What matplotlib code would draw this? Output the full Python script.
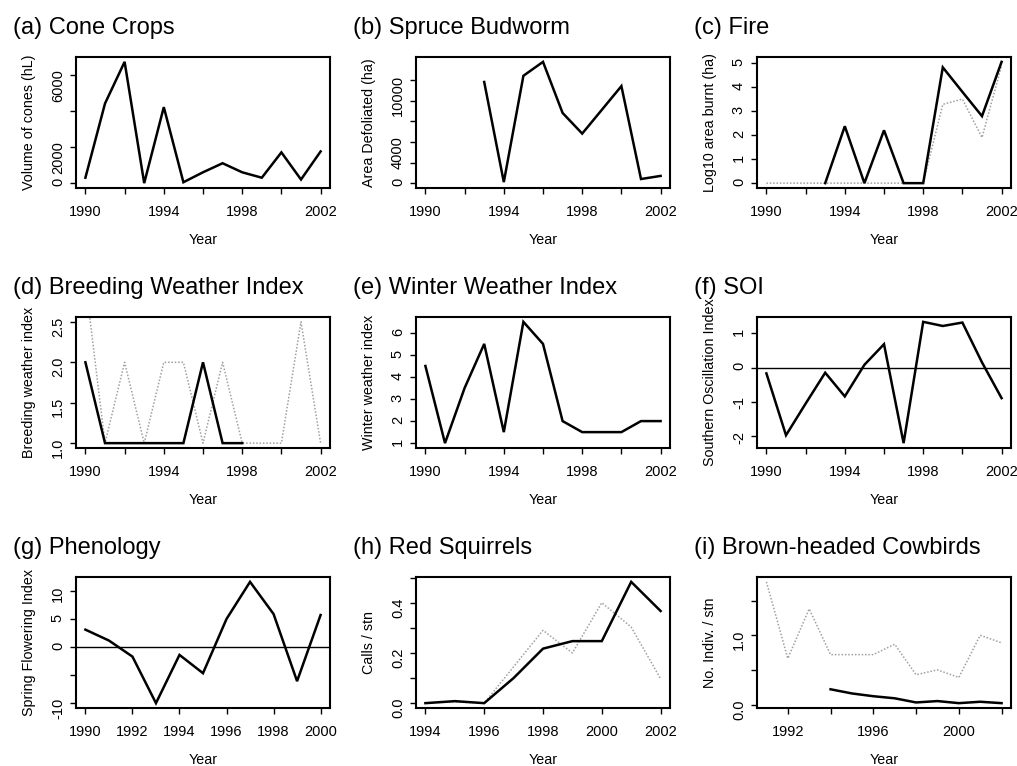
import matplotlib
matplotlib.use('Agg')
import matplotlib.pyplot as plt
import numpy as np

plt.rcParams['font.family'] = ['Liberation Sans', 'DejaVu Sans']

# (a) cone crops
cone_years = [1990, 1991, 1992, 1993, 1994, 1995, 1996, 1997, 1998, 1999, 2000, 2001, 2002]
cone_volume = [300, 4400, 6700, 0, 4200, 50, 600, 1100, 600, 300, 1700, 200, 1750]

# (b) spruce budworm
budworm_years = [1993, 1994, 1995, 1996, 1997, 1998, 1999, 2000, 2001, 2002]
budworm_area = [9800, 100, 10400, 11750, 6800, 4800, 7100, 9400, 400, 700]

# (c) fire, local (solid) and regional (dotted)
fire_years = [1993, 1994, 1995, 1996, 1997, 1998, 1999, 2000, 2001, 2002]
fire_local = [0, 2.37, 0, 2.2, 0, 0, 4.82, 3.8, 2.79, 5.05]
fire_reg_years = [1990, 1991, 1992, 1993, 1994, 1995, 1996, 1997, 1998, 1999, 2000, 2001, 2002]
fire_reg = [0, 0, 0, 0, 0, 0, 0, 0, 0, 3.28, 3.5, 1.9, 4.9]

# (d) breeding weather
breed_years = [1990, 1991, 1992, 1993, 1994, 1995, 1996, 1997, 1998]
breed_local = [2, 1, 1, 1, 1, 1, 2, 1, 1]
breed_reg_years = [1990, 1991, 1992, 1993, 1994, 1995, 1996, 1997, 1998, 1999, 2000, 2001, 2002]
breed_reg = [3.0, 1, 2, 1, 2, 2, 1, 2, 1, 1, 1, 2.5, 1]

# (e) winter weather
winter_years = [1990, 1991, 1992, 1993, 1994, 1995, 1996, 1997, 1998, 1999, 2000, 2001, 2002]
winter_index = [4.5, 1.0, 3.5, 5.5, 1.5, 6.5, 5.5, 2.0, 1.5, 1.5, 1.5, 2.0, 2.0]

# (f) SOI
soi_years = [1990, 1991, 1992, 1993, 1994, 1995, 1996, 1997, 1998, 1999, 2000, 2001, 2002]
soi = [-0.17, -1.97, -1.05, -0.15, -0.84, 0.08, 0.68, -2.2, 1.33, 1.21, 1.31, 0.15, -0.89]

# (g) phenology
phen_years = [1990, 1991, 1992, 1993, 1994, 1995, 1996, 1997, 1998, 1999, 2000]
phen_index = [3.15, 1.2, -1.67, -10.0, -1.37, -4.64, 5.06, 11.7, 5.95, -6.07, 5.77]

# (h) red squirrels
sq_years = [1994, 1995, 1996, 1997, 1998, 1999, 2000, 2001, 2002]
sq_local = [0.0, 0.008, 0.0, 0.1, 0.217, 0.247, 0.247, 0.483, 0.367]
sq_reg = [0.0, 0.005, 0.0, 0.145, 0.29, 0.2, 0.4, 0.303, 0.097]

# (i) cowbirds
cb_reg_years = [1991, 1992, 1993, 1994, 1995, 1996, 1997, 1998, 1999, 2000, 2001, 2002]
cb_reg = [1.77, 0.665, 1.38, 0.72, 0.72, 0.72, 0.87, 0.43, 0.5, 0.39, 1.0, 0.89]
cb_years = [1994, 1995, 1996, 1997, 1998, 1999, 2000, 2001, 2002]
cb_local = [0.22, 0.16, 0.12, 0.09, 0.03, 0.05, 0.02, 0.04, 0.02]

W, H = 1017, 766
fig = plt.figure(figsize=(W / 100, H / 100), dpi=100)

col_left = [76, 416, 757]
row_top = [57, 317, 577]
aw, ah = 254, 131

solid = dict(color='black', lw=1.8, solid_joinstyle='miter')
dotted = dict(color='#a0a0a0', lw=1.1, linestyle=(0, (1, 1.2)))


def rlim(lo, hi):
    pad = 0.04 * (hi - lo)
    return lo - pad, hi + pad


def panel(r, c, title, ylabel, xr, yr, xticks, xshow, yticks, yshow):
    l, t = col_left[c], row_top[r]
    ax = fig.add_axes([l / W, 1 - (t + ah) / H, aw / W, ah / H])
    ax.set_xlim(*rlim(*xr))
    ax.set_ylim(*rlim(*yr))
    ax.set_xticks(xticks)
    ax.set_xticklabels([str(v) if s else '' for v, s in zip(xticks, xshow)])
    ax.set_yticks(yticks)
    ax.set_yticklabels(yshow)
    ax.tick_params(direction='out', length=4, width=1, labelsize=10.5, pad=8)
    ax.tick_params(axis='y', labelrotation=90, pad=4)
    for sp in ax.spines.values():
        sp.set_linewidth(1.5)
    ax.set_xlabel('Year', fontsize=10.3)
    ax.xaxis.set_label_coords(0.5, -45 / ah)
    ax.set_ylabel(ylabel, fontsize=10.3)
    ax.yaxis.set_label_coords(-40 / aw, 0.5)
    fig.text((l - 63) / W, 1 - (t - 23) / H, title, fontsize=17,
             ha='left', va='baseline')
    return ax


yrs4 = [1990, 1992, 1994, 1996, 1998, 2000, 2002]
show4 = [1, 0, 1, 0, 1, 0, 1]

ax = panel(0, 0, '(a) Cone Crops', 'Volume of cones (hL)', (1990, 2002), (0, 6700),
           yrs4, show4, [0, 2000, 4000, 6000], ['0', '2000', '', '6000'])
ax.plot(cone_years, cone_volume, **solid)

ax = panel(0, 1, '(b) Spruce Budworm', 'Area Defoliated (ha)', (1990, 2002), (0, 11750),
           yrs4, show4, [0, 2000, 4000, 6000, 8000, 10000], ['0', '', '4000', '', '', '10000'])
ax.plot(budworm_years, budworm_area, **solid)

ax = panel(0, 2, '(c) Fire', 'Log10 area burnt (ha)', (1990, 2002), (0, 5.05),
           yrs4, show4, [0, 1, 2, 3, 4, 5], ['0', '1', '2', '3', '4', '5'])
ax.plot(fire_reg_years, fire_reg, **dotted)
ax.plot(fire_years, fire_local, **solid)

ax = panel(1, 0, '(d) Breeding Weather Index', 'Breeding weather index', (1990, 2002), (1, 2.5),
           yrs4, show4, [1.0, 1.5, 2.0, 2.5], ['1.0', '1.5', '2.0', '2.5'])
ax.plot(breed_reg_years, breed_reg, **dotted)
ax.plot(breed_years, breed_local, **solid)

ax = panel(1, 1, '(e) Winter Weather Index', 'Winter weather index', (1990, 2002), (1, 6.5),
           yrs4, show4, [1, 2, 3, 4, 5, 6], ['1', '2', '3', '4', '5', '6'])
ax.plot(winter_years, winter_index, **solid)

ax = panel(1, 2, '(f) SOI', 'Southern Oscillation Index', (1990, 2002), (-2.2, 1.33),
           yrs4, show4, [-2, -1, 0, 1], ['-2', '-1', '0', '1'])
ax.axhline(0, color='black', lw=1)
ax.plot(soi_years, soi, **solid)

ax = panel(2, 0, '(g) Phenology', 'Spring Flowering Index', (1990, 2000), (-10, 11.7),
           [1990, 1992, 1994, 1996, 1998, 2000], [1, 1, 1, 1, 1, 1],
           [-10, -5, 0, 5, 10], ['-10', '', '0', '5', '10'])
ax.axhline(0, color='black', lw=1)
ax.plot(phen_years, phen_index, **solid)

ax = panel(2, 1, '(h) Red Squirrels', 'Calls / stn', (1994, 2002), (0, 0.483),
           [1994, 1996, 1998, 2000, 2002], [1, 1, 1, 1, 1],
           [0, 0.1, 0.2, 0.3, 0.4, 0.5], ['0.0', '', '0.2', '', '0.4', ''])
ax.plot(sq_years, sq_reg, **dotted)
ax.plot(sq_years, sq_local, **solid)

ax = panel(2, 2, '(i) Brown-headed Cowbirds', 'No. Indiv. / stn', (1991, 2002), (0.02, 1.77),
           [1992, 1994, 1996, 1998, 2000, 2002], [1, 0, 1, 0, 1, 0],
           [0, 0.5, 1.0, 1.5], ['0.0', '', '1.0', ''])
ax.plot(cb_reg_years, cb_reg, **dotted)
ax.plot(cb_years, cb_local, **solid)

fig.savefig('out.png', dpi=100)
